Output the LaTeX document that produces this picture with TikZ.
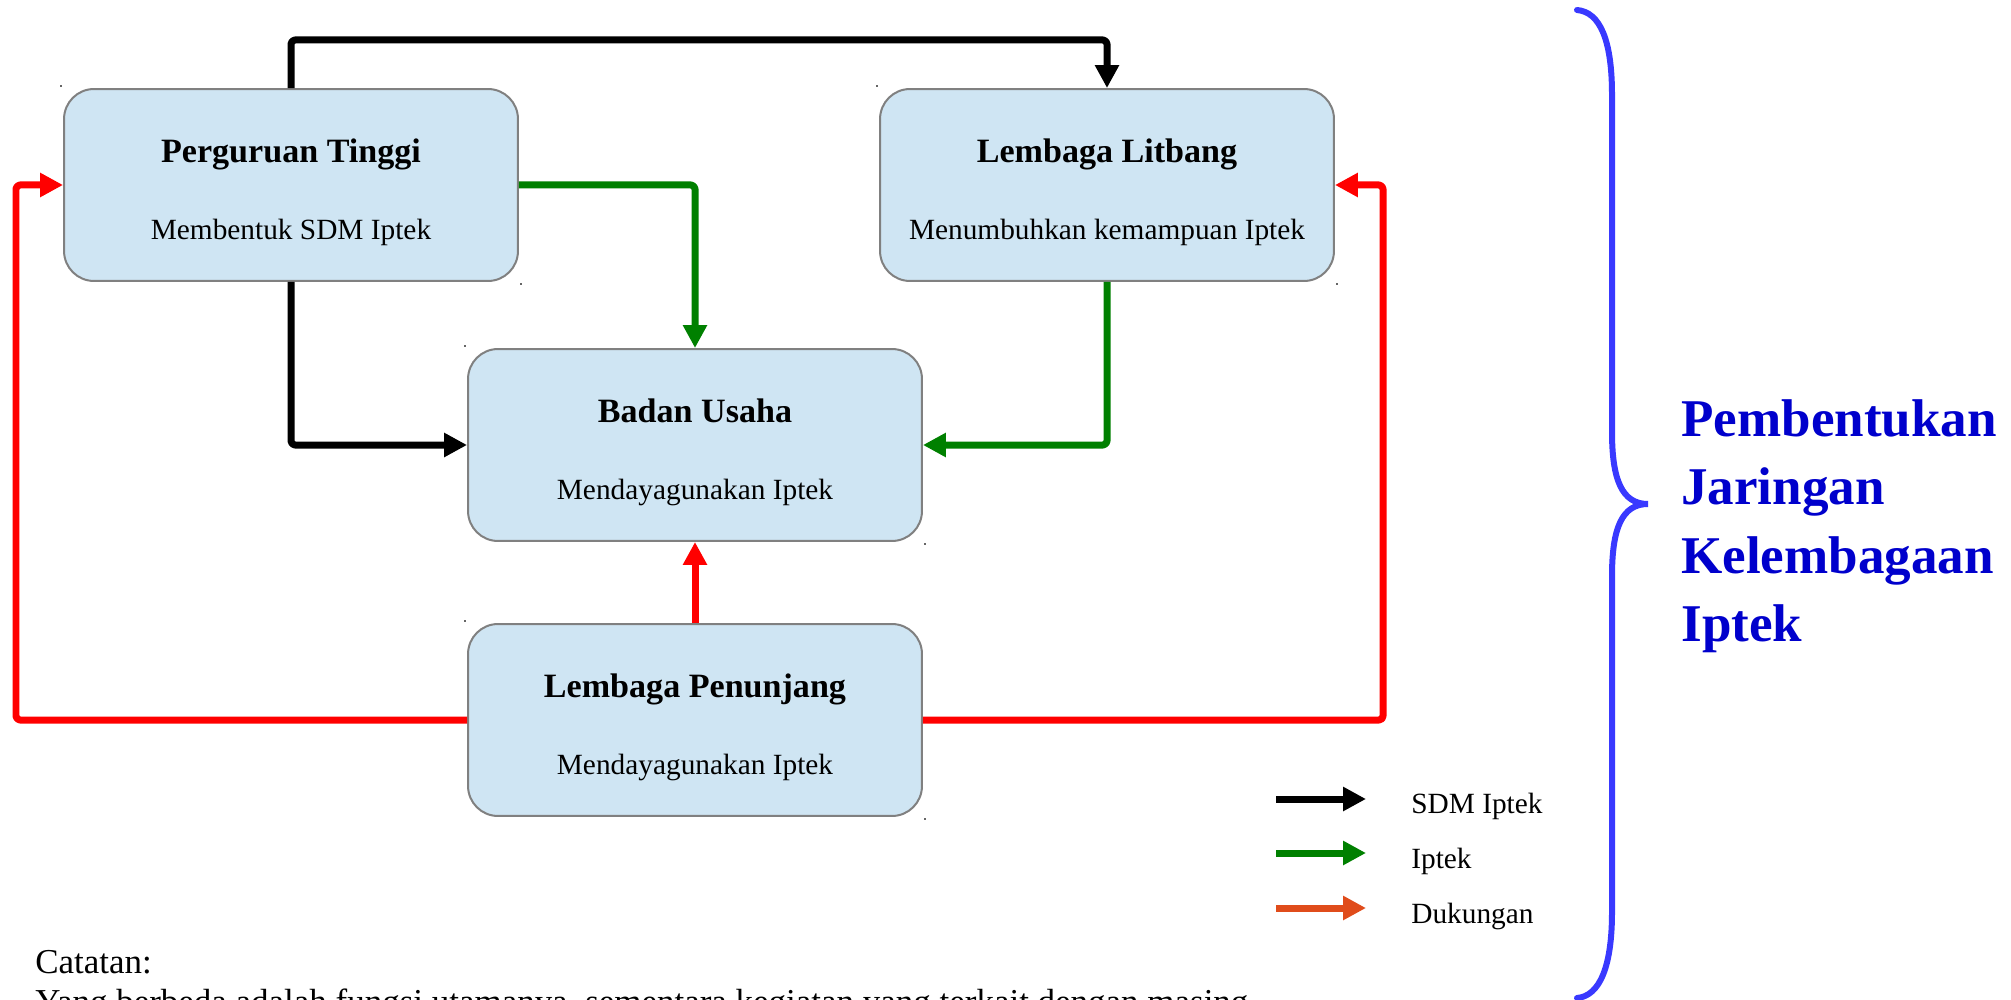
\documentclass[tikz,border=0pt]{standalone}
\usepackage{fontspec}
\setmainfont{Liberation Serif}
\usetikzlibrary{arrows.meta}
\definecolor{boxfill}{HTML}{CFE5F3}
\definecolor{boxline}{HTML}{808080}
\definecolor{iptekgreen}{HTML}{008000}
\definecolor{dukred}{HTML}{FF0000}
\definecolor{dukorange}{HTML}{E04C1B}
\definecolor{bracecol}{HTML}{3939FF}
\definecolor{netblue}{HTML}{0000CC}
\tikzset{
  inst/.style={draw=boxline, line width=0.04cm, fill=boxfill, rounded corners=0.6cm,
    minimum width=9.08cm, minimum height=3.84cm, inner sep=0pt},
  insttitle/.style={anchor=base, font=\fontsize{19.4}{23}\selectfont\bfseries, inner sep=0pt},
  instsub/.style={anchor=base, font=\fontsize{16.7}{20}\selectfont, inner sep=0pt},
  flow/.style={line width=0.14cm, rounded corners=0.08cm, line join=round,
    -{Triangle[width=0.46cm,length=0.46cm]}},
  sdm/.style={flow, black},
  ipt/.style={flow, iptekgreen},
  duk/.style={flow, dukred},
  legtext/.style={anchor=base west, font=\fontsize{16.7}{20}\selectfont, inner sep=0pt},
  nettext/.style={anchor=base west, font=\fontsize{30.2}{36}\selectfont\bfseries,
    text=netblue, inner sep=0pt},
  note/.style={anchor=base west, font=\fontsize{19.9}{24}\selectfont, inner sep=0pt},
  cornerdot/.style={fill=black!60, inner sep=0pt, minimum width=0.04cm, minimum height=0.03cm},
}
\begin{document}
\begin{tikzpicture}[x=0.02cm, y=-0.02cm]
\useasboundingbox (0,0) rectangle (2011,1000);

% institutions
\node[inst] (pt) at (291,185) {};
\node[inst] (lb) at (1107,185) {};
\node[inst] (bu) at (695,445) {};
\node[inst] (lp) at (695,720) {};

% frame marks at the box corners
\foreach \b in {pt,lb,bu,lp}{
  \node[cornerdot] (\b-nw) at ([xshift=-0.04cm,yshift=0.04cm]\b.north west) {};
  \node[cornerdot] (\b-se) at ([xshift=0.04cm,yshift=-0.04cm]\b.south east) {};
}

\node[insttitle] (ptT) at ([yshift=0.46cm]pt.center) {Perguruan Tinggi};
\node[instsub]   (ptS) at ([yshift=-1.1cm]pt.center) {Membentuk SDM Iptek};
\node[insttitle] (lbT) at ([yshift=0.46cm]lb.center) {Lembaga Litbang};
\node[instsub]   (lbS) at ([yshift=-1.1cm]lb.center) {Menumbuhkan kemampuan Iptek};
\node[insttitle] (buT) at ([yshift=0.46cm]bu.center) {Badan Usaha};
\node[instsub]   (buS) at ([yshift=-1.1cm]bu.center) {Mendayagunakan Iptek};
\node[insttitle] (lpT) at ([yshift=0.46cm]lp.center) {Lembaga Penunjang};
\node[instsub]   (lpS) at ([yshift=-1.1cm]lp.center) {Mendayagunakan Iptek};

% routing levels
\coordinate (topline) at (0,40);
\coordinate (leftline) at (16,0);
\coordinate (rightline) at (1383,0);

% SDM Iptek flows
\draw[sdm] (pt.north) -- (pt.north |- topline) -| (lb.north);
\draw[sdm] (pt.south) |- (bu.west);

% Iptek flows
\draw[ipt] (pt.east) -| (bu.north);
\draw[ipt] (lb.south) |- (bu.east);

% support flows
\draw[duk] (lp.north) -- (bu.south);
\draw[duk] (lp.west) -- (lp.west -| leftline) |- (pt.west);
\draw[duk] (lp.east) -- (lp.east -| rightline) |- (lb.east);

% legend
\coordinate (k1a) at (1276,799); \coordinate (k1b) at (1366,799);
\coordinate (k2a) at (1276,853); \coordinate (k2b) at (1366,853);
\coordinate (k3a) at (1276,908); \coordinate (k3b) at (1366,908);
\draw[flow, black] (k1a) -- (k1b);
\draw[flow, iptekgreen] (k2a) -- (k2b);
\draw[flow, dukorange] (k3a) -- (k3b);
\node[legtext] (l1) at (1411,813) {SDM Iptek};
\node[legtext] (l2) at (1411,868) {Iptek};
\node[legtext] (l3) at (1411,923) {Dukungan};

% brace
\draw[bracecol, line width=0.12cm, line cap=round]
  (1577,10) .. controls (1600,12) and (1612,40) .. (1612,95)
  -- (1612,432)
  .. controls (1612,480) and (1622,504) .. (1648,504)
  .. controls (1622,504) and (1612,528) .. (1612,576)
  -- (1612,912)
  .. controls (1612,966) and (1600,996) .. (1577,998);

\node[nettext] (n1) at (1681,436) {Pembentukan};
\node[nettext] (n2) at (1681,504) {Jaringan};
\node[nettext] (n3) at (1681,573) {Kelembagaan};
\node[nettext] (n4) at (1681,641) {Iptek};

% note
\node[note] (c1) at (35,973) {Catatan:};
\node[note] (c2) at (35,1013) {Yang berbeda adalah fungsi utamanya, sementara kegiatan yang terkait dengan masing-};
\end{tikzpicture}
\end{document}
